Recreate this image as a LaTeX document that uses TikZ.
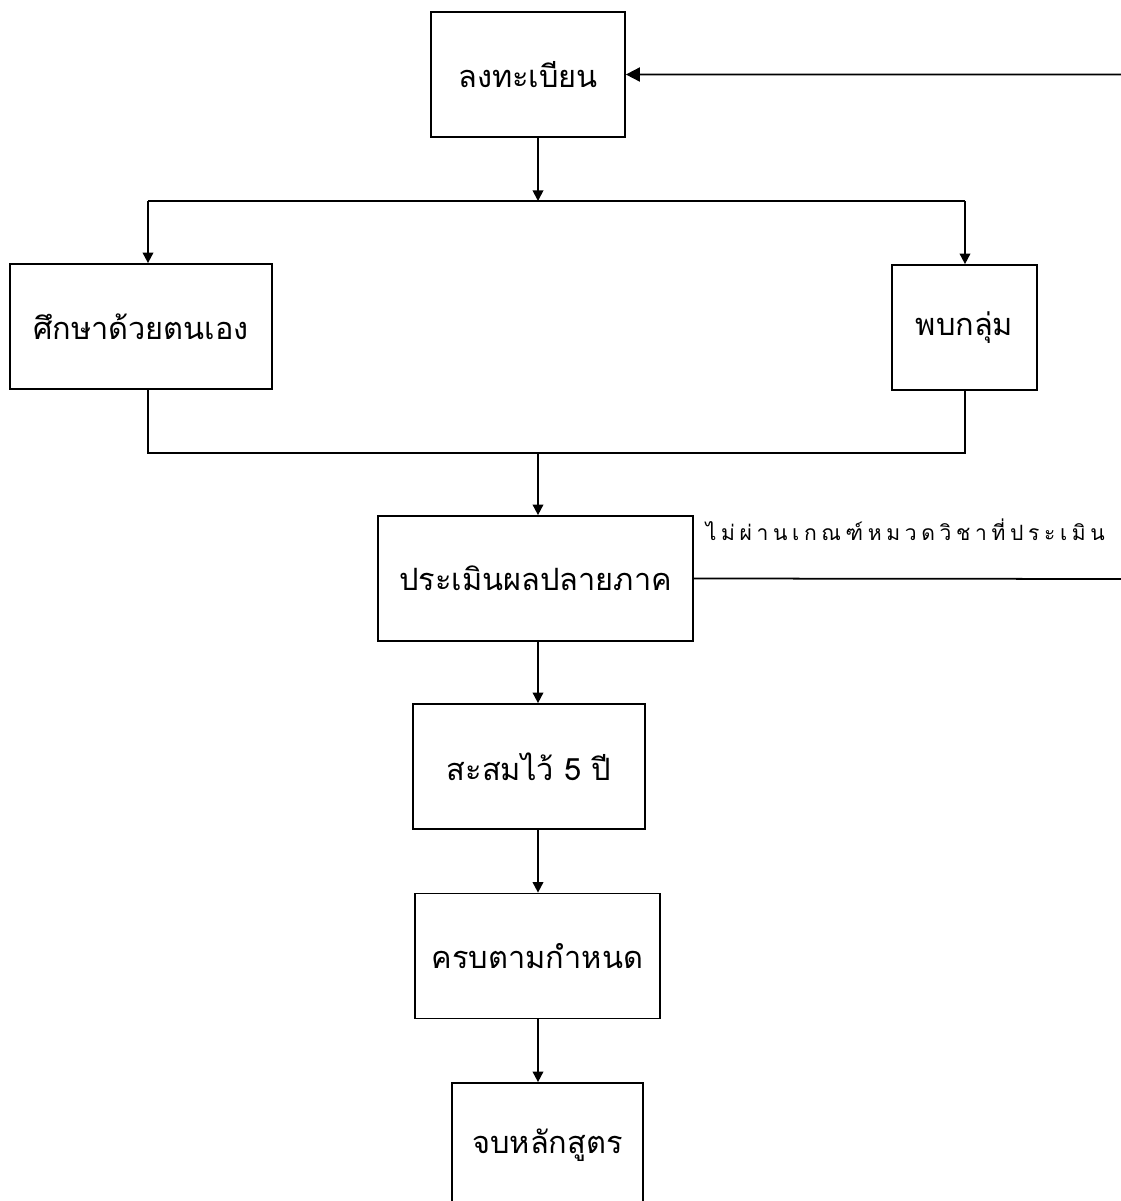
\documentclass[tikz,border=0pt]{standalone}
\usepackage{fontspec}
\setmainfont[Script=Thai]{Loma}
\newfontfamily\spacedthai[Script=Thai,LetterSpace=22]{Loma}
\usetikzlibrary{arrows.meta}

\begin{document}
\begin{tikzpicture}[x=0.02cm, y=-0.02cm, line width=1pt]
  \useasboundingbox (0,0) rectangle (1121,1201);
  \clip (0,0) rectangle (1121,1201);

  % Kaesten.
  \tikzstyle{box}=[draw, rectangle, minimum height=2.5cm, inner sep=0pt, font=\fontsize{17.5}{21}\selectfont]
  \tikzstyle{arr}=[-{Triangle[length=6pt,width=6pt]}]

  \node[box, minimum width=3.88cm] (reg) at (528,74.5) {ลงทะเบียน};
  \node[box, minimum width=5.24cm] (self) at (141,326.5) {ศึกษาด้วยตนเอง};
  \node[box, minimum width=2.9cm] (grp) at (964.5,327.5) {พบกลุ่ม};
  \node[box, minimum width=6.3cm] (eval) at (535.5,578.5) {ประเมินผลปลายภาค};
  \node[box, minimum width=4.64cm] (five) at (529,766.5) {สะสมไว้ 5 ปี};
  \node[box, minimum width=4.9cm] (done) at (537.5,956) {ครบตามกำหนด};
  \node[box, minimum width=3.82cm] (grad) at (547.5,1145.5) {จบหลักสูตร};

  % Verzweigung.
  \coordinate (split) at (538,201);
  \coordinate (sl) at (148,201);
  \coordinate (sr) at (965,201);
  \draw[arr] (reg.south -| split) -- (split);
  \draw (sl) -- (sr);
  \draw[arr] (sl) -- (self.north -| sl);
  \draw[arr] (sr) -- (grp.north -| sr);

  % Zusammenfuehrung.
  \coordinate (join) at (538,453);
  \coordinate (jl) at (148,453);
  \coordinate (jr) at (965,453);
  \draw (self.south -| jl) -- (jl) -- (jr) -- (grp.south -| jr);
  \draw[arr] (join) -- (eval.north -| join);

  % Kette.
  \draw[arr] (eval.south -| join) -- (five.north -| join);
  \draw[arr] (five.south -| join) -- (done.north -| join);
  \draw[arr] (done.south -| join) -- (grad.north -| join);

  % Rueckweg.
  \coordinate (back) at (1140,579);
  \draw[-{Triangle[length=8pt,width=8pt]}] (eval.east) -- (back) -- (back |- reg.east) -- (reg.east);
  \node[anchor=west, inner sep=0pt, font=\spacedthai\fontsize{12}{14}\selectfont] (fail) at (705,530) {ไม่ผ่านเกณฑ์หมวดวิชาที่ประเมิน};
\end{tikzpicture}
\end{document}
